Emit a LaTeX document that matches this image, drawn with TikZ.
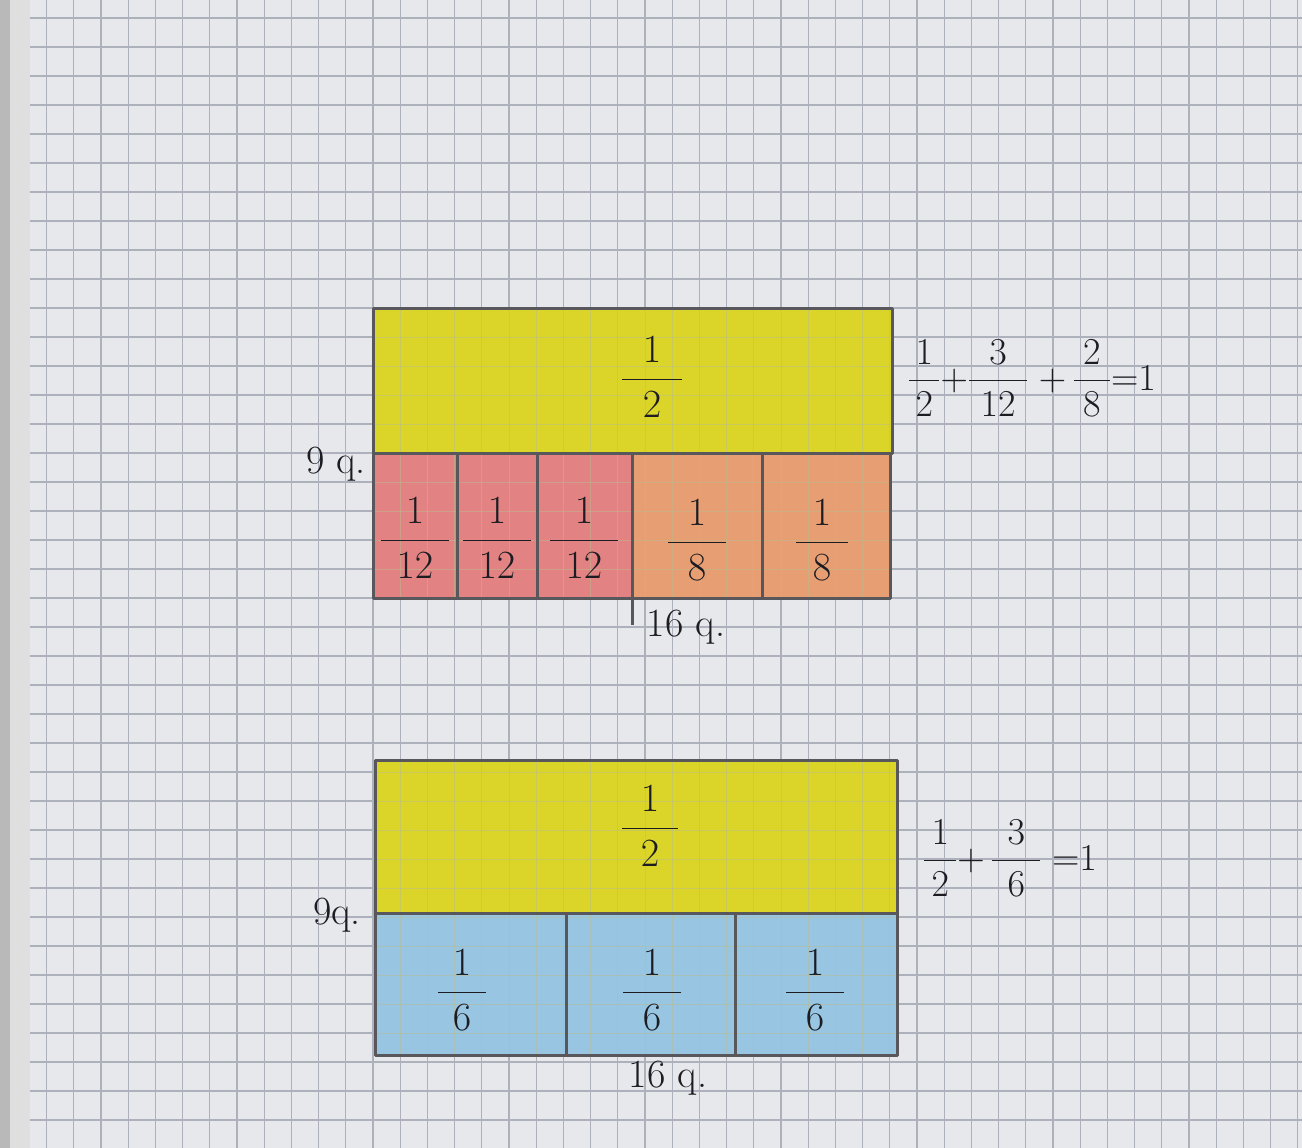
\RequirePackage{fix-cm}
\documentclass[tikz,border=0pt]{standalone}
\usepackage{amsmath}
\definecolor{paper}{RGB}{231,232,236}
\definecolor{gridc}{RGB}{172,177,188}
\definecolor{yel}{RGB}{218,213,40}
\definecolor{redc}{RGB}{226,130,130}
\definecolor{orc}{RGB}{232,158,115}
\definecolor{bluc}{RGB}{152,197,226}
\definecolor{pencil}{RGB}{88,88,92}
\definecolor{ink}{RGB}{28,28,34}
\newcommand{\hfr}[3]{$\displaystyle\frac{\makebox[#3]{$#1$}}{\makebox[#3]{$#2$}}$}
\begin{document}
\begin{tikzpicture}[x=1pt,y=-1pt,
  cell/.style={draw=pencil, line width=3pt, line join=round},
  lbl/.style={font=\fontsize{40}{44}\selectfont, text=ink, inner sep=0pt},
  eqn/.style={font=\fontsize{38}{42}\selectfont, text=ink, inner sep=0pt},
  side/.style={font=\fontsize{40}{44}\selectfont, text=ink, inner sep=0pt}]
\useasboundingbox (0,0) rectangle (1302,1148);
% paper
\fill[paper] (0,0) rectangle (1302,1148);
\fill[gray!55] (0,0) rectangle (10,1148);
\fill[gray!25] (10,0) rectangle (30,1148);
\foreach \k in {1,...,47} \draw[gridc, line width=1.1pt] ({19.4+27.2*\k},0) -- ({19.4+27.2*\k},1148);
\foreach \k in {0,...,39} \draw[gridc, line width=1.1pt] (30,{18+29*\k}) -- (1302,{18+29*\k});

% ---------- top diagram ----------
\fill[yel] (373,308) rectangle (892,453);
\fill[redc] (373,453) rectangle (632,598);
\fill[orc] (632,453) rectangle (890,598);
\foreach \k in {13,...,32} \draw[gridc!70!yel, line width=1pt, opacity=0.5] ({19.4+27.2*\k},308) -- ({19.4+27.2*\k},598);
\foreach \k in {11,...,20} \draw[gridc!70!yel, line width=1pt, opacity=0.5] (373,{18+29*\k}) -- (890,{18+29*\k});
\draw[cell] (373,308) rectangle (892,453);
\draw[cell] (373,453) rectangle (890,598);
\draw[cell] (457,453) -- (457,598);
\draw[cell] (537,453) -- (537,598);
\draw[cell] (632,453) -- (632,625);
\draw[cell] (762,453) -- (762,598);

\node[lbl] (ta) at (652,377) {\hfr{1}{2}{60pt}};
\node[lbl] (r1) at (415,538) {\hfr{1}{12}{68pt}};
\node[lbl] (r2) at (497,538) {\hfr{1}{12}{68pt}};
\node[lbl] (r3) at (584,538) {\hfr{1}{12}{68pt}};
\node[lbl] (o1) at (697,540) {\hfr{1}{8}{58pt}};
\node[lbl] (o2) at (822,540) {\hfr{1}{8}{52pt}};
\node[side] (t9) at (336,464) {9 q.};
\node[side] (t16) at (686,627) {16 q.};
\node[eqn] (teq) at (1032,378) {$\displaystyle\frac{\makebox[30pt]{$1$}}{2}{+}\frac{\makebox[58pt]{$3$}}{12}\;{+}\,\frac{\makebox[36pt]{$2$}}{8}{=}1$};

% ---------- bottom diagram ----------
\fill[yel] (375,760) rectangle (897,913);
\fill[bluc] (375,913) rectangle (897,1055);
\foreach \k in {13,...,32} \draw[gridc!70!yel, line width=1pt, opacity=0.5] ({19.4+27.2*\k},760) -- ({19.4+27.2*\k},1055);
\foreach \k in {26,...,35} \draw[gridc!70!yel, line width=1pt, opacity=0.5] (375,{18+29*\k}) -- (897,{18+29*\k});
\draw[cell] (375,760) rectangle (897,913);
\draw[cell] (375,913) rectangle (897,1055);
\draw[cell] (566,913) -- (566,1055);
\draw[cell] (735,913) -- (735,1055);

\node[lbl] (ba) at (650,826) {\hfr{1}{2}{56pt}};
\node[lbl] (b1) at (462,990) {\hfr{1}{6}{48pt}};
\node[lbl] (b2) at (652,990) {\hfr{1}{6}{58pt}};
\node[lbl] (b3) at (815,990) {\hfr{1}{6}{58pt}};
\node[side] (b9) at (337,915) {9q.};
\node[side] (b16) at (668,1078) {16 q.};
\node[eqn] (beq) at (1010,858) {$\displaystyle\frac{\makebox[32pt]{$1$}}{2}{+}\,\frac{\makebox[48pt]{$3$}}{6}\;{=}1$};
\end{tikzpicture}
\end{document}
